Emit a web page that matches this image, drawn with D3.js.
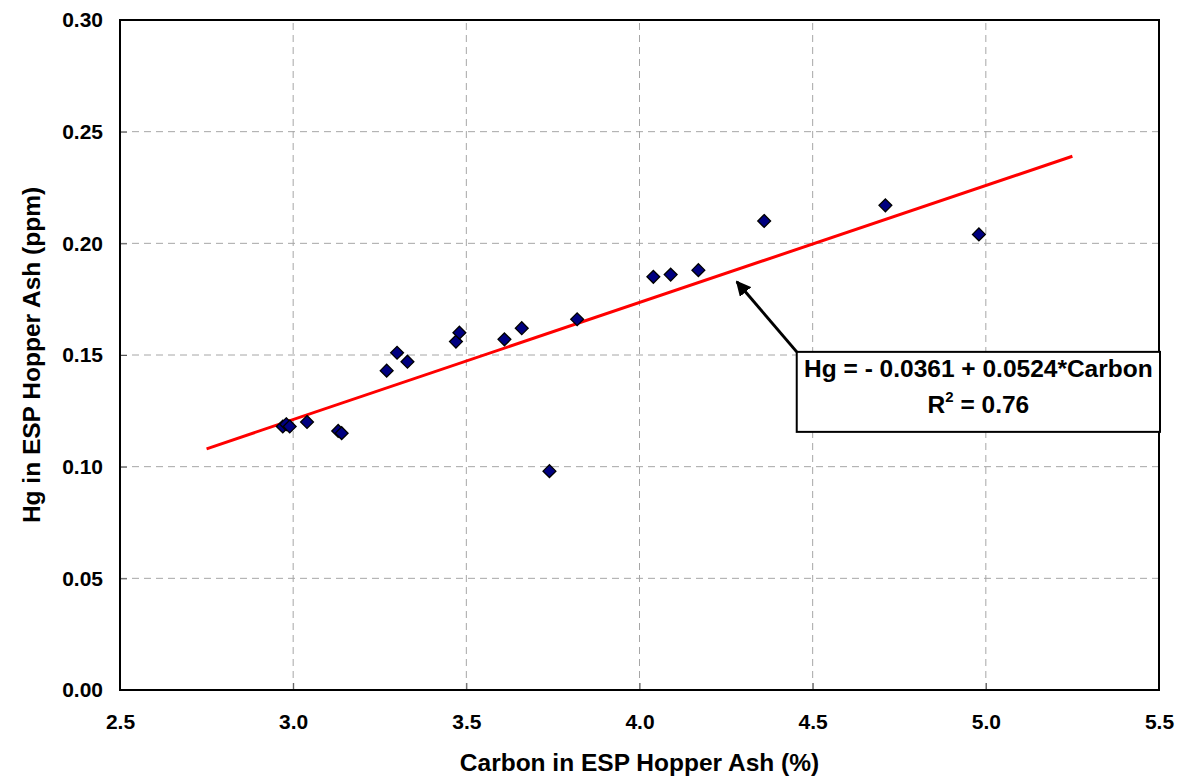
<!DOCTYPE html>
<html lang="en">
<head>
<meta charset="UTF-8">
<script src="https://d3js.org/d3.v7.min.js"></script>
<style>
  body { margin: 0; background: #fff; }
  text { font-family: Arial, "Liberation Sans", sans-serif; font-weight: bold; }
</style>
</head>
<body>
<div id="chart"></div>
<script>
// carbon (%) and Hg (ppm)
var carbon = [2.97, 2.98, 2.99, 3.04, 3.13, 3.14, 3.27, 3.30, 3.33, 3.47, 3.48, 3.61, 3.66, 3.74, 3.82, 4.04, 4.09, 4.17, 4.36, 4.71, 4.98];
var hg     = [0.118, 0.119, 0.118, 0.120, 0.116, 0.115, 0.143, 0.151, 0.147, 0.156, 0.160, 0.157, 0.162, 0.098, 0.166, 0.185, 0.186, 0.188, 0.210, 0.217, 0.204];

var xTicks = [2.5, 3.0, 3.5, 4.0, 4.5, 5.0, 5.5];
var yTicks = [0.00, 0.05, 0.10, 0.15, 0.20, 0.25, 0.30];

// fit: Hg = a + b*Carbon
var fitA = -0.0361, fitB = 0.0524;
var fitRange = [2.75, 5.25];

var width = 1180, height = 780;
var margin = {left: 120, right: 21, top: 20, bottom: 90};

var svg = d3.select("#chart").append("svg")
    .attr("width", width)
    .attr("height", height);

var x = d3.scaleLinear().domain([2.5, 5.5]).range([margin.left, width - margin.right]);
var y = d3.scaleLinear().domain([0, 0.30]).range([height - margin.bottom, margin.top]);

// grid
svg.append("g").selectAll("line")
    .data(xTicks.slice(1, -1))
    .enter().append("line")
    .attr("x1", function (d) { return x(d); })
    .attr("x2", function (d) { return x(d); })
    .attr("y1", y(0)).attr("y2", y(0.30))
    .attr("stroke", "#a6a6a6").attr("stroke-width", 1)
    .attr("stroke-dasharray", "7,5");

svg.append("g").selectAll("line")
    .data(yTicks.slice(1, -1))
    .enter().append("line")
    .attr("y1", function (d) { return y(d); })
    .attr("y2", function (d) { return y(d); })
    .attr("x1", x(2.5)).attr("x2", x(5.5))
    .attr("stroke", "#a6a6a6").attr("stroke-width", 1)
    .attr("stroke-dasharray", "7,5");

// axes
var xAxis = svg.append("g")
    .attr("transform", "translate(0," + y(0) + ")")
    .call(d3.axisBottom(x).tickValues(xTicks).tickFormat(d3.format(".1f")).tickSizeInner(-7).tickSizeOuter(0).tickPadding(24));
var yAxis = svg.append("g")
    .attr("transform", "translate(" + x(2.5) + ",0)")
    .call(d3.axisLeft(y).tickValues(yTicks).tickFormat(d3.format(".2f")).tickSizeInner(-7).tickSizeOuter(0).tickPadding(17));

[xAxis, yAxis].forEach(function (g) {
    g.select(".domain").remove();
    g.selectAll(".tick line").attr("stroke", "#555");
    g.selectAll("text").attr("font-size", 21).attr("fill", "#000")
        .style("font-family", "Arial, 'Liberation Sans', sans-serif").style("font-weight", "bold");
});

// frame
svg.append("rect")
    .attr("x", x(2.5)).attr("y", y(0.30))
    .attr("width", x(5.5) - x(2.5)).attr("height", y(0) - y(0.30))
    .attr("fill", "none").attr("stroke", "#000").attr("stroke-width", 2);

// regression line
var line = d3.line()
    .x(function (d) { return x(d); })
    .y(function (d) { return y(fitA + fitB * d); });
svg.append("path")
    .datum(fitRange)
    .attr("d", line)
    .attr("fill", "none").attr("stroke", "#ff0000").attr("stroke-width", 3);

// points
svg.append("g").selectAll("path")
    .data(carbon)
    .enter().append("path")
    .attr("d", d3.symbol().type(d3.symbolDiamond2).size(105))
    .attr("transform", function (d, i) { return "translate(" + x(d) + "," + y(hg[i]) + ")"; })
    .attr("fill", "#000080").attr("stroke", "#000").attr("stroke-width", 1.3);

// annotation arrow
svg.append("defs").append("marker")
    .attr("id", "arrow").attr("viewBox", "0 0 10 10")
    .attr("refX", 9).attr("refY", 5)
    .attr("markerWidth", 5).attr("markerHeight", 5)
    .attr("orient", "auto")
    .append("path").attr("d", "M0,0 L10,5 L0,10 z").attr("fill", "#000");

svg.append("line")
    .attr("x1", x(4.454)).attr("y1", y(0.1514))
    .attr("x2", x(4.281)).attr("y2", y(0.1828))
    .attr("stroke", "#000").attr("stroke-width", 3)
    .attr("marker-end", "url(#arrow)");

// annotation box
var bx = x(4.454), by = y(0.1514), bw = x(5.5) - bx + 1, bh = 80;
svg.append("rect")
    .attr("x", bx).attr("y", by).attr("width", bw).attr("height", bh)
    .attr("fill", "#fff").attr("stroke", "#000").attr("stroke-width", 2);
svg.append("text")
    .attr("x", bx + bw / 2).attr("y", by + 25)
    .attr("text-anchor", "middle").attr("font-size", 24.5)
    .text("Hg = - " + Math.abs(fitA).toFixed(4) + " + " + fitB.toFixed(4) + "*Carbon");
var r2 = svg.append("text")
    .attr("x", bx + bw / 2).attr("y", by + 61)
    .attr("text-anchor", "middle").attr("font-size", 24.5);
r2.append("tspan").text("R");
r2.append("tspan").attr("dy", -11).attr("font-size", 15).text("2");
r2.append("tspan").attr("dy", 11).text(" = 0.76");

// axis titles
svg.append("text")
    .attr("x", (x(2.5) + x(5.5)) / 2).attr("y", 771)
    .attr("text-anchor", "middle").attr("font-size", 24.5)
    .text("Carbon in ESP Hopper Ash (%)");
svg.append("text")
    .attr("transform", "translate(40," + (y(0.15)) + ") rotate(-90)")
    .attr("text-anchor", "middle").attr("font-size", 24.5)
    .text("Hg in ESP Hopper Ash (ppm)");
</script>
</body>
</html>
